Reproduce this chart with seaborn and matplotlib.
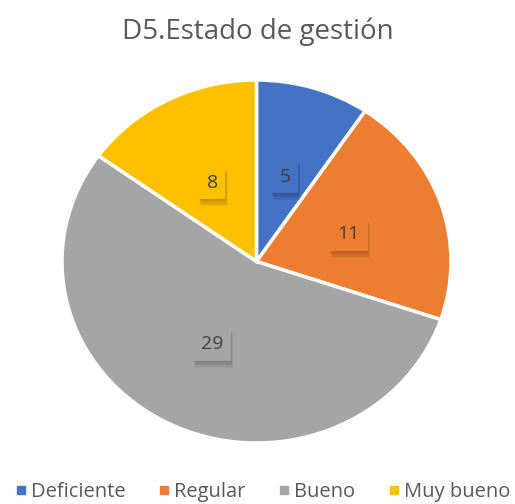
import matplotlib
matplotlib.use('Agg')
import matplotlib.pyplot as plt
import matplotlib.patheffects as pe
import seaborn as sns
import numpy as np

# datos
categorias = ['Deficiente', 'Regular', 'Bueno', 'Muy bueno']
valores = [5, 11, 29, 8]
colores = ['#4472C4', '#ED7D31', '#A5A5A5', '#FFC000']

sns.set_theme(style='white')
plt.rcParams['font.family'] = ['Open Sans', 'DejaVu Sans']
texto = '#595959'

fig = plt.figure(figsize=(5.15, 5.04), dpi=100)
# el pastel del original está algo achatado (elipse)
rx, ry = 194.5, 181.5
cx, cy = 256.5 / 515, (504 - 261.5) / 504
w, h = 2 * rx / 515, 2 * ry / 504
ax = fig.add_axes([cx - w / 2, cy - h / 2, w, h])

wedges, _ = ax.pie(valores, colors=colores, startangle=90, counterclock=False,
                   radius=1.0, wedgeprops=dict(edgecolor='white', linewidth=2.5))
ax.set_xlim(-1, 1)
ax.set_ylim(-1, 1)
ax.set_aspect('auto')

# sombra difusa: varias sombras suaves apiladas
sombra = [pe.SimplePatchShadow(offset=(dx, dy), alpha=0.07)
          for dx, dy in [(0, -1), (0.5, -2), (1, -3), (1, -4), (1.5, -5)]]

# etiquetas con caja del color de la porción
total = sum(valores)
ang = 90.0
for v, c in zip(valores, colores):
    medio = ang - v / total * 360 / 2
    ang -= v / total * 360
    r = 0.5
    x = r * np.cos(np.radians(medio))
    y = r * np.sin(np.radians(medio))
    t = ax.text(x, y - 0.01, str(v), ha='center', va='center', fontsize=14, color='#404040',
                bbox=dict(boxstyle='square,pad=0.4', facecolor=c, edgecolor='none'))
    t.get_bbox_patch().set_path_effects(sombra + [pe.Normal()])

fig.text(0.5, 1 - 32 / 504, 'D5.Estado de gestión', ha='center', va='center',
         fontsize=20, color=texto)

handles = [plt.Line2D([], [], marker='s', linestyle='', markersize=5.5,
                      markerfacecolor=c, markeredgecolor=c) for c in colores]
fig.legend(handles, categorias, loc='center', bbox_to_anchor=(0.51, 1 - 492 / 504),
           ncol=4, frameon=False, fontsize=14.5, labelcolor=texto,
           handletextpad=0.2, columnspacing=1.6, handlelength=0.6,
           borderpad=0, borderaxespad=0)

fig.savefig('out.png', dpi=100)
